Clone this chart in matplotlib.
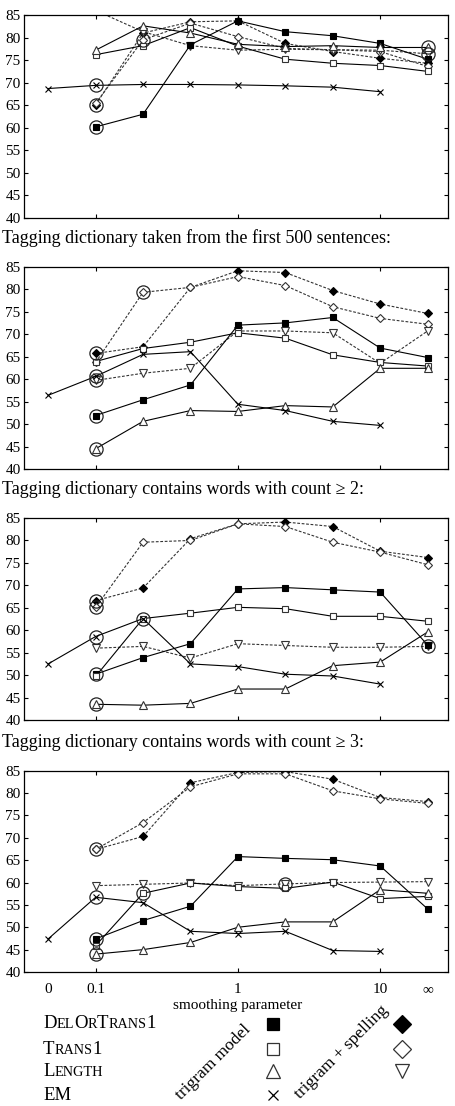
import matplotlib
matplotlib.use("Agg")
import matplotlib.pyplot as plt
from matplotlib.offsetbox import TextArea, HPacker, AnnotationBbox

plt.rcParams['font.family'] = ['Liberation Serif', 'DejaVu Serif']

# --- data ---
# x positions: 0 = "0", 1 = 0.1, 4 = 1, 7 = 10, 8 = infinity
x_em = [0, 1, 2, 3, 4, 5, 6, 7]
x_main = [1, 2, 3, 4, 5, 6, 7, 8]
tick_pos = [0, 1, 4, 7, 8]
tick_labels = ["0", "0.1", "1", "10", "∞"]
y_ticks = [40, 45, 50, 55, 60, 65, 70, 75, 80, 85]

titles = [None,
          "Tagging dictionary taken from the first 500 sentences:",
          "Tagging dictionary contains words with count ≥ 2:",
          "Tagging dictionary contains words with count ≥ 3:"]

# panel 1: full tagging dictionary
p1_dot = [60.2, 63.0, 78.4, 83.7, 81.3, 80.4, 78.7, 75.2]
p1_trans = [76.2, 78.2, 82.2, 78.1, 75.2, 74.3, 73.8, 72.5]
p1_len = [77.2, 82.6, 81.0, 78.5, 78.0, 78.2, 77.8, 77.8]
p1_em = [68.7, 69.4, 69.6, 69.6, 69.5, 69.3, 69.0, 68.0]
p1_dot_sp = [65.1, 81.0, 83.5, 83.7, 78.7, 76.9, 75.4, 74.3]
p1_trans_sp = [65.4, 79.5, 83.2, 80.2, 77.6, 77.3, 76.9, 73.6]
p1_len_sp = [86.0, 81.3, 78.2, 77.2, 77.4, 77.3, 77.2, 76.4]
p1_circled = [("dot", 0), ("em", 1), ("dot_sp", 0), ("trans_sp", 1),
              ("len", 7), ("len_sp", 7)]

# panel 2: first 500 sentences
p2_dot = [51.9, 55.4, 58.7, 72.0, 72.5, 73.7, 66.9, 64.8]
p2_trans = [63.9, 66.8, 68.2, 70.3, 69.1, 65.4, 63.7, 62.9]
p2_len = [44.5, 50.6, 53.0, 52.8, 54.1, 53.8, 62.4, 62.4]
p2_em = [56.4, 60.6, 65.5, 66.1, 54.4, 53.0, 50.6, 49.7]
p2_dot_sp = [65.7, 67.2, 80.4, 84.1, 83.7, 79.7, 76.7, 74.6]
p2_trans_sp = [63.7, 79.3, 80.4, 82.8, 80.8, 76.1, 73.5, 72.2]
p2_len_sp = [59.7, 61.3, 62.4, 70.7, 70.7, 70.3, 63.5, 70.7]
p2_circled = [("dot", 0), ("len", 0), ("em", 1), ("len_sp", 0),
              ("dot_sp", 0), ("trans_sp", 1)]

# panel 3: count >= 2
p3_dot = [50.2, 53.9, 57.0, 69.2, 69.5, 69.0, 68.5, 56.7]
p3_trans = [49.7, 62.6, 63.8, 65.1, 64.8, 63.1, 63.1, 62.0]
p3_len = [43.5, 43.3, 43.7, 46.9, 46.9, 52.1, 52.9, 59.6]
p3_em = [52.5, 58.6, 62.6, 52.5, 51.9, 50.2, 49.8, 48.0]
p3_dot_sp = [66.6, 69.4, 80.4, 83.7, 84.1, 83.1, 77.6, 76.2]
p3_trans_sp = [65.1, 79.6, 80.0, 83.7, 83.1, 79.6, 77.4, 74.6]
p3_len_sp = [56.0, 56.4, 53.8, 57.0, 56.6, 56.2, 56.2, 56.4]
p3_circled = [("dot", 0), ("len", 0), ("em", 1), ("em", 2),
              ("dot_sp", 0), ("trans_sp", 0), ("len_sp", 7)]

# panel 4: count >= 3
p4_dot = [47.4, 51.5, 54.7, 65.8, 65.4, 65.1, 63.7, 54.1]
p4_trans = [45.9, 57.6, 59.9, 59.1, 58.7, 60.1, 56.4, 56.9]
p4_len = [44.0, 45.0, 46.6, 50.0, 51.2, 51.2, 58.4, 57.6]
p4_em = [47.4, 56.7, 55.5, 49.1, 48.6, 49.1, 44.8, 44.6]
p4_dot_sp = [67.4, 70.3, 82.3, 84.6, 84.8, 83.1, 79.0, 78.1]
p4_trans_sp = [67.4, 73.4, 81.4, 84.3, 84.3, 80.5, 78.7, 77.7]
p4_len_sp = [59.3, 59.6, 59.9, 59.3, 59.7, 60.0, 60.1, 60.2]
p4_circled = [("dot", 0), ("len", 0), ("em", 1), ("trans", 1),
              ("dot_sp", 0), ("len_sp", 4)]

panels = [
    dict(dot=p1_dot, trans=p1_trans, len=p1_len, em=p1_em,
         dot_sp=p1_dot_sp, trans_sp=p1_trans_sp, len_sp=p1_len_sp, circled=p1_circled),
    dict(dot=p2_dot, trans=p2_trans, len=p2_len, em=p2_em,
         dot_sp=p2_dot_sp, trans_sp=p2_trans_sp, len_sp=p2_len_sp, circled=p2_circled),
    dict(dot=p3_dot, trans=p3_trans, len=p3_len, em=p3_em,
         dot_sp=p3_dot_sp, trans_sp=p3_trans_sp, len_sp=p3_len_sp, circled=p3_circled),
    dict(dot=p4_dot, trans=p4_trans, len=p4_len, em=p4_em,
         dot_sp=p4_dot_sp, trans_sp=p4_trans_sp, len_sp=p4_len_sp, circled=p4_circled),
]

# --- styles ---
dash = (0, (2.5, 1.5))
styles = {
    "dot_sp":   dict(marker="D", mfc="black", mec="black", ms=4.5, ls=dash, color="#333333"),
    "trans_sp": dict(marker="D", mfc="white", mec="#333333", ms=4.5, ls=dash, color="#333333"),
    "len_sp":   dict(marker="v", mfc="white", mec="#333333", ms=5.5, ls=dash, color="#333333"),
    "dot":      dict(marker="s", mfc="black", mec="black", ms=4, ls="-", color="black"),
    "trans":    dict(marker="s", mfc="white", mec="#333333", ms=4, ls="-", color="black"),
    "len":      dict(marker="^", mfc="white", mec="#333333", ms=5.5, ls="-", color="black"),
    "em":       dict(marker="x", mfc="none", mec="black", ms=4.5, ls="-", color="black"),
}

W, H = 456, 1106
fig = plt.figure(figsize=(W / 100, H / 100), dpi=100)

# axes boxes in pixels: (top, bottom)
left_px, right_px = 24, 448
boxes = [(15, 218), (266.7, 469), (518, 720), (770.7, 972)]

for i, (panel, (top, bot)) in enumerate(zip(panels, boxes)):
    ax = fig.add_axes([left_px / W, 1 - bot / H, (right_px - left_px) / W, (bot - top) / H])
    for key, st in styles.items():
        xs = x_em if key == "em" else x_main
        ax.plot(xs, panel[key], lw=0.8, mew=0.8, **st)
    for key, idx in panel["circled"]:
        xs = x_em if key == "em" else x_main
        ax.plot(xs[idx], panel[key][idx], marker="o", ms=9.5, mfc="none",
                mec="#222222", mew=0.9, ls="none")
    ax.set_xlim(-0.51, 8.43)
    ax.set_ylim(40, 85)
    ax.set_yticks(y_ticks)
    ax.tick_params(direction="in", top=True, right=True, labelsize=11,
                   length=3, pad=2.5, width=0.8)
    ax.tick_params(axis="x", pad=8)
    ax.set_xticks(tick_pos, tick_labels if i == 3 else [""] * len(tick_pos))
    for j in (0, 4):
        t = ax.xaxis.get_major_ticks()[j]
        t.tick1line.set_visible(False)
        t.tick2line.set_visible(False)
    for sp in ax.spines.values():
        sp.set_linewidth(0.9)
    if titles[i]:
        fig.text(2 / W, 1 - (top - 24) / H, titles[i], fontsize=13, va="baseline", ha="left")

fig.text(238 / W, 1 - 1005 / H, "smoothing parameter", fontsize=11, ha="center", va="center")

# --- legend (small caps names) ---
def small_caps(parts):
    areas = []
    for txt, big in parts:
        areas.append(TextArea(txt, textprops=dict(size=13.5 if big else 10.3)))
    return HPacker(children=areas, align="baseline", pad=0, sep=0)

names = [
    [("D", True), ("EL", False), ("O", True), ("R", False), ("T", True), ("RANS", False), ("1", True)],
    [("T", True), ("RANS", False), ("1", True)],
    [("L", True), ("ENGTH", False)],
    [("EM", True)],
]
rows_y = [1024, 1049, 1071, 1095]
col_keys = [("dot", "trans", "len", "em"), ("dot_sp", "trans_sp", "len_sp", None)]
col_x = [273, 402]
leg_sizes = {"s": 8.5, "D": 9.5, "^": 10.5, "v": 10.5, "x": 7.5}

for name, y in zip(names, rows_y):
    ab = AnnotationBbox(small_caps(name), (43, H - y), xycoords="figure pixels",
                        box_alignment=(0, 0.5), frameon=False, pad=0)
    fig.add_artist(ab)

for cx, keys in zip(col_x, col_keys):
    for key, y in zip(keys, rows_y):
        if key is None:
            continue
        st = styles[key]
        fig.add_artist(plt.Line2D([cx / W], [1 - y / H], transform=fig.transFigure,
                                  marker=st["marker"], mfc=st["mfc"], mec=st["mec"],
                                  ms=leg_sizes[st["marker"]], mew=0.9, ls="none"))

fig.text(213 / W, 1 - 1062 / H, "trigram model", fontsize=12.5, rotation=45,
         ha="center", va="center", rotation_mode="anchor")
fig.text(342 / W, 1 - 1052 / H, "trigram + spelling", fontsize=12.5, rotation=45,
         ha="center", va="center", rotation_mode="anchor")

fig.savefig("out.png", dpi=100)
